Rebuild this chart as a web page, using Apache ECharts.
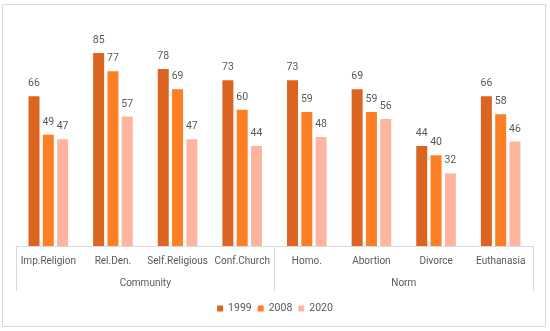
<!DOCTYPE html>
<html>
<head>
<meta charset="utf-8">
<script src="https://cdn.jsdelivr.net/npm/echarts@6/dist/echarts.min.js"></script>
<style>
html,body{margin:0;padding:0;background:#fff;}
#chart{width:550px;height:331px;}
</style>
</head>
<body>
<div id="chart"></div>
<script>
const categories = ['Imp.Religion','Rel.Den.','Self.Religious','Conf.Church','Homo.','Abortion','Divorce','Euthanasia'];
const groups = ['Community','Norm'];
const seriesNames = ['1999','2008','2020'];
const v1999 = [66,85,78,73,73,69,44,66];
const v2008 = [49,77,69,60,59,59,40,58];
const v2020 = [47,57,47,44,48,56,32,46];
const colors = ['#DB6420','#FC7F26','#FDB5A0'];

const font = 'Roboto, "Noto Sans", sans-serif';
const chart = echarts.init(document.getElementById('chart'), null, {renderer:'canvas'});
const values = [v1999, v2008, v2020];
chart.setOption({
  animation:false,
  textStyle:{fontFamily:font},
  graphic:[{type:'rect',shape:{x:2.5,y:4.5,width:543,height:322},style:{fill:'none',stroke:'#d9d9d9',lineWidth:1},silent:true}],
  grid:{left:16,right:17,top:19,bottom:85},
  legend:{data:seriesNames,top:303,left:'center',padding:0,icon:'rect',itemWidth:6,itemHeight:6,itemGap:6,
    textStyle:{color:'#595959',fontSize:10.5,fontFamily:font}},
  xAxis:[
    {type:'category',data:categories,position:'bottom',
     axisLine:{show:true,lineStyle:{color:'#d9d9d9'}},axisTick:{show:false},
     axisLabel:{color:'#595959',fontSize:10,margin:10,interval:0,fontFamily:font}},
    {type:'category',data:groups,position:'bottom',offset:0,
     axisLine:{show:false},axisTick:{show:true,length:45,interval:0,lineStyle:{color:'#d9d9d9'}},
     axisLabel:{color:'#595959',fontSize:10,margin:32,interval:0,fontFamily:font}}
  ],
  yAxis:{type:'value',min:0,max:100,show:false,splitLine:{show:false}},
  series: seriesNames.map((n,i)=>({
    name:n,type:'bar',xAxisIndex:0,data:values[i],barWidth:11,barGap:'30%',
    itemStyle:{color:colors[i]},
    label:{show:true,position:'top',distance:7,color:'#595959',fontSize:10.5,fontFamily:font}
  }))
});
</script>
</body>
</html>
